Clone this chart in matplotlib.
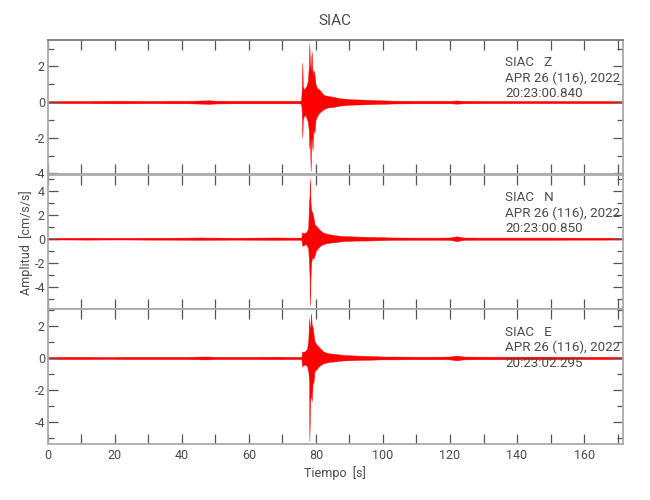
import numpy as np
import matplotlib
matplotlib.use("Agg")
import matplotlib.pyplot as plt
from matplotlib.ticker import MultipleLocator

# -----------------------------
# 1. Data (envelope of each trace)
# -----------------------------
station = "SIAC"
components = ["Z", "N", "E"]
date_label = "APR 26 (116), 2022"
start_times = ["20:23:00.840", "20:23:00.850", "20:23:02.295"]

t_end = 171.6

# quiet background before the event (symmetric amplitude)
t_pre = [0, 6, 12, 18, 24, 30, 36, 42, 46, 48, 50, 56, 62, 68, 72, 75]
amp_pre_z = [0.05, 0.06, 0.06, 0.07, 0.07, 0.06, 0.07, 0.07, 0.09, 0.10, 0.08, 0.07, 0.07, 0.07, 0.07, 0.07]
amp_pre_n = [0.07, 0.07, 0.08, 0.07, 0.07, 0.08, 0.08, 0.09, 0.10, 0.09, 0.09, 0.08, 0.09, 0.10, 0.09, 0.09]
amp_pre_e = [0.06, 0.07, 0.07, 0.06, 0.07, 0.07, 0.07, 0.07, 0.09, 0.09, 0.07, 0.07, 0.07, 0.08, 0.07, 0.07]

# coda tail after the event
t_post = [103, 110, 116, 120, 122, 124, 130, 140, 150, 160, 166, 171.6]
amp_post_z = [0.08, 0.07, 0.07, 0.07, 0.09, 0.07, 0.06, 0.06, 0.06, 0.06, 0.06, 0.05]
amp_post_n = [0.10, 0.09, 0.09, 0.10, 0.20, 0.10, 0.09, 0.09, 0.09, 0.08, 0.08, 0.07]
amp_post_e = [0.09, 0.08, 0.08, 0.09, 0.15, 0.09, 0.08, 0.08, 0.08, 0.07, 0.07, 0.06]

# event window: times, upper and lower envelope
t_ev_z = [75.6, 75.8, 75.95, 76.1, 76.4, 76.8, 77.2, 77.6, 77.9, 78.05, 78.2, 78.45, 78.6, 78.75,
          79.0, 79.25, 79.55, 79.9, 80.3, 81.0, 81.7, 82.3, 83.5, 85, 87, 90, 94, 99]
up_ev_z = [0.10, 0.8, 2.2, 0.9, 0.7, 0.8, 0.9, 1.2, 2.0, 3.3, 2.2, 1.8, 2.4, 2.8,
           1.5, 1.8, 1.6, 1.0, 0.8, 0.7, 0.55, 0.4, 0.35, 0.3, 0.22, 0.16, 0.14, 0.10]
lo_ev_z = [-0.10, -0.6, -2.0, -1.0, -0.8, -0.7, -0.9, -1.1, -1.6, -2.6, -2.0, -3.85, -2.2, -2.0,
           -2.7, -1.5, -1.75, -1.0, -0.8, -0.6, -0.5, -0.4, -0.3, -0.28, -0.2, -0.15, -0.13, -0.10]

t_ev_n = [75.7, 75.85, 76.2, 76.8, 77.3, 77.7, 77.95, 78.1, 78.25, 78.4, 78.6, 78.9, 79.2, 79.6,
          80.0, 80.6, 81.3, 82.2, 83.5, 85.5, 88, 92, 96, 100]
up_ev_n = [0.10, 0.55, 0.45, 0.5, 0.6, 0.9, 3.0, 3.6, 5.0, 3.0, 2.4, 2.2, 1.9, 1.2,
           1.1, 0.9, 0.7, 0.5, 0.4, 0.3, 0.22, 0.18, 0.15, 0.12]
lo_ev_n = [-0.10, -0.5, -0.6, -0.45, -0.55, -0.8, -2.0, -3.0, -5.6, -3.2, -2.0, -1.5, -1.7, -1.4,
           -1.0, -0.8, -0.6, -0.45, -0.35, -0.3, -0.2, -0.16, -0.15, -0.12]

t_ev_e = [75.7, 75.85, 76.3, 76.9, 77.4, 77.75, 78.0, 78.05, 78.3, 78.55, 78.75, 79.0, 79.3, 79.6,
          80.0, 80.6, 81.3, 82.2, 83.5, 85.5, 88, 92, 96, 100]
up_ev_e = [0.08, 0.41, 0.38, 0.45, 0.6, 1.2, 2.5, 1.9, 1.95, 2.8, 2.1, 1.95, 1.5, 1.05,
           0.9, 0.75, 0.6, 0.41, 0.3, 0.26, 0.19, 0.15, 0.12, 0.09]
lo_ev_e = [-0.08, -0.52, -0.45, -0.41, -0.52, -0.9, -1.5, -5.2, -2.7, -2.25, -2.7, -1.65, -1.5, -0.82,
           -0.75, -0.6, -0.45, -0.34, -0.26, -0.22, -0.16, -0.13, -0.11, -0.09]

# axis limits and labelled ticks per panel
ylims = [(-4.05, 3.5), (-5.9, 5.35), (-5.4, 3.05)]
yticks = [[-4, -2, 0, 2], [-4, -2, 0, 2, 4], [-4, -2, 0, 2]]

traces = [
    (amp_pre_z, t_ev_z, up_ev_z, lo_ev_z, amp_post_z),
    (amp_pre_n, t_ev_n, up_ev_n, lo_ev_n, amp_post_n),
    (amp_pre_e, t_ev_e, up_ev_e, lo_ev_e, amp_post_e),
]

# -----------------------------
# 2. Figure
# -----------------------------
plt.rcParams["font.family"] = ["Roboto", "DejaVu Sans"]
plt.rcParams["axes.unicode_minus"] = False
text_color = "#4a4a4a"
frame_color = "#aaaaaa"

fig = plt.figure(figsize=(6.5, 5.0), dpi=100)
left, width = 0.0734, 0.885
bottoms = [0.6514, 0.3814, 0.112]
height = 0.2693

axes = []
for i in range(3):
    ax = fig.add_axes([left, bottoms[i], width, height])
    axes.append(ax)

    pre, t_ev, up_ev, lo_ev, post = traces[i]
    t = np.concatenate([t_pre, t_ev, t_post])
    up = np.concatenate([pre, up_ev, post])
    lo = np.concatenate([-np.array(pre), lo_ev, -np.array(post)])

    ax.fill_between(t, lo, up, color="red", linewidth=0.3, edgecolor="red")

    ax.set_xlim(0, t_end)
    ax.set_ylim(*ylims[i])
    ax.set_yticks(yticks[i])
    ax.yaxis.set_minor_locator(MultipleLocator(1))
    ax.xaxis.set_major_locator(MultipleLocator(20))
    ax.xaxis.set_minor_locator(MultipleLocator(10))

    ax.tick_params(which="both", direction="in", top=True, right=True,
                   colors="#555555", labelcolor=text_color, labelsize=9)
    ax.tick_params(which="major", length=7, width=0.9)
    ax.tick_params(which="minor", length=4, width=0.9)
    ax.tick_params(axis="x", which="minor", length=7)
    ax.tick_params(axis="y", pad=2)
    if i < 2:
        ax.tick_params(axis="x", labelbottom=False)

    for side in ax.spines.values():
        side.set_color(frame_color)
        side.set_linewidth(1.3)

    # station / date / start time block
    ax.text(0.795, 0.83, f"{station}   {components[i]}", transform=ax.transAxes,
            fontsize=9.6, color=text_color, va="center")
    ax.text(0.795, 0.715, date_label, transform=ax.transAxes,
            fontsize=9.6, color=text_color, va="center")
    ax.text(0.795, 0.60, start_times[i], transform=ax.transAxes,
            fontsize=9.6, color=text_color, va="center")

axes[0].spines["top"].set_color("#777777")

fig.text(0.515, 0.958, station, ha="center", va="center", fontsize=11, color=text_color)
axes[2].set_xlabel("Tiempo  [s]", fontsize=9, color=text_color, labelpad=3)
fig.text(0.040, 0.515, "Amplitud  [cm/s/s]", rotation=90, ha="center", va="center",
         fontsize=9, color=text_color)

fig.savefig("out.png", dpi=100)
